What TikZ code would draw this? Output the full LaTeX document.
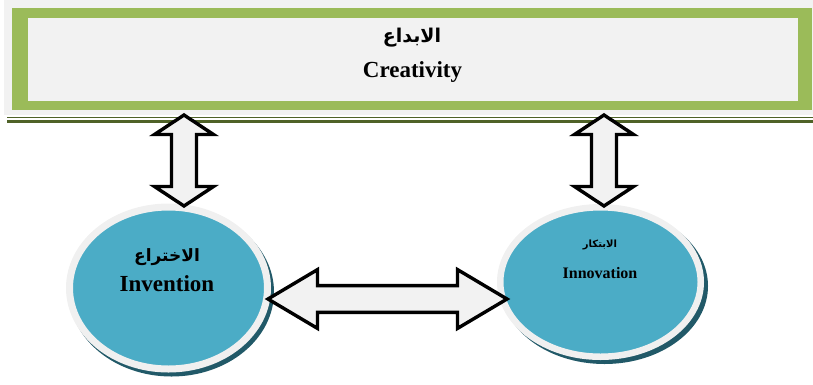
\documentclass[tikz,border=0pt]{standalone}
\usepackage{fontspec}
\usetikzlibrary{shapes.geometric}
\setmainfont{Liberation Serif}
\newfontfamily\arabicfont[Script=Arabic]{DejaVu Sans}
\TeXXeTstate=1
\definecolor{panelgray}{HTML}{F2F2F2}
\definecolor{framegreen}{HTML}{9BBB59}
\definecolor{rulegreen}{HTML}{4F6228}
\definecolor{bubbleblue}{HTML}{4BACC6}
\definecolor{bubblering}{HTML}{F0F0F0}
\definecolor{bubbleshadow}{HTML}{215968}
\definecolor{arrowfill}{HTML}{F2F2F2}
\begin{document}
\begin{tikzpicture}[x=1pt,y=-1pt,
  blockarrow/.style={fill=arrowfill, draw=black, line width=3.4pt, line join=miter, miter limit=10},
  bubble/.style={ellipse, fill=bubbleblue, draw=bubblering, inner sep=0pt},
  latin/.style={inner sep=0pt, font=\bfseries},
  arab/.style={inner sep=0pt},
  pics/updown/.style={code={
    \draw[blockarrow] (0,-45.5) -- (29.5,-26) -- (12.5,-26) -- (12.5,26) -- (29.5,26)
      -- (0,45.5) -- (-29.5,26) -- (-12.5,26) -- (-12.5,-26) -- (-29.5,-26) -- cycle;}},
  pics/leftright/.style={code={
    \draw[blockarrow] (-119.5,0) -- (-70,-29.4) -- (-70,-13.4) -- (70,-13.4) -- (70,-29.4)
      -- (119.5,0) -- (70,29.4) -- (70,13.4) -- (-70,13.4) -- (-70,29.4) -- cycle;}}
]
\useasboundingbox (0,0) rectangle (813,384);

% top panel with green frame
\fill[panelgray] (4,0) rectangle (813,115);
\fill[framegreen] (12,8) rectangle (812,110);
\node[fill=panelgray, inner sep=0pt, minimum width=770pt, minimum height=83pt] (box) at (413,59.5) {};
\fill[rulegreen] (7,117) rectangle (813,118.3);
\fill[rulegreen] (7,120) rectangle (813,123.2);

\node[arab] (creatar) at (412,38) {\fontsize{19}{22}\selectfont\arabicfont\bfseries\beginR الابداع\endR};
\node[latin, anchor=base] (createn) at (412.5,77) {\fontsize{23}{26}\selectfont Creativity};

% ellipse centres
\coordinate (invc) at (168.5,288);
\coordinate (innc) at (600.5,282);

% shadows
\fill[bubbleshadow] ([shift={(3,4)}]invc) ellipse [x radius=102.5, y radius=84.5];
\fill[bubbleshadow] ([shift={(4,4)}]innc) ellipse [x radius=103.5, y radius=78];

% bubbles
\node[bubble, line width=7pt, minimum width=198pt, minimum height=162pt] (inv) at (invc) {};
\node[bubble, line width=6.5pt, minimum width=200.5pt, minimum height=149.5pt] (inn) at (innc) {};

\node[arab] (invar) at (167,257) {\fontsize{17}{20}\selectfont\arabicfont\bfseries\beginR الاختراع\endR};
\node[latin, anchor=base] (inven) at (167,291) {\fontsize{23}{26}\selectfont Invention};

\node[arab] (innar) at (600,245) {\fontsize{10}{12}\selectfont\arabicfont\bfseries\beginR الابتكار\endR};
\node[latin, anchor=base] (innen) at (600,278) {\fontsize{16}{19}\selectfont Innovation};

% block arrows between the panel and the bubbles
\coordinate (arrA) at (184,160.5);
\coordinate (arrB) at (604,160.5);
\coordinate (arrC) at (387.5,299);
\pic at (arrA) {updown};
\pic at (arrB) {updown};
\pic at (arrC) {leftright};
\end{tikzpicture}
\end{document}
